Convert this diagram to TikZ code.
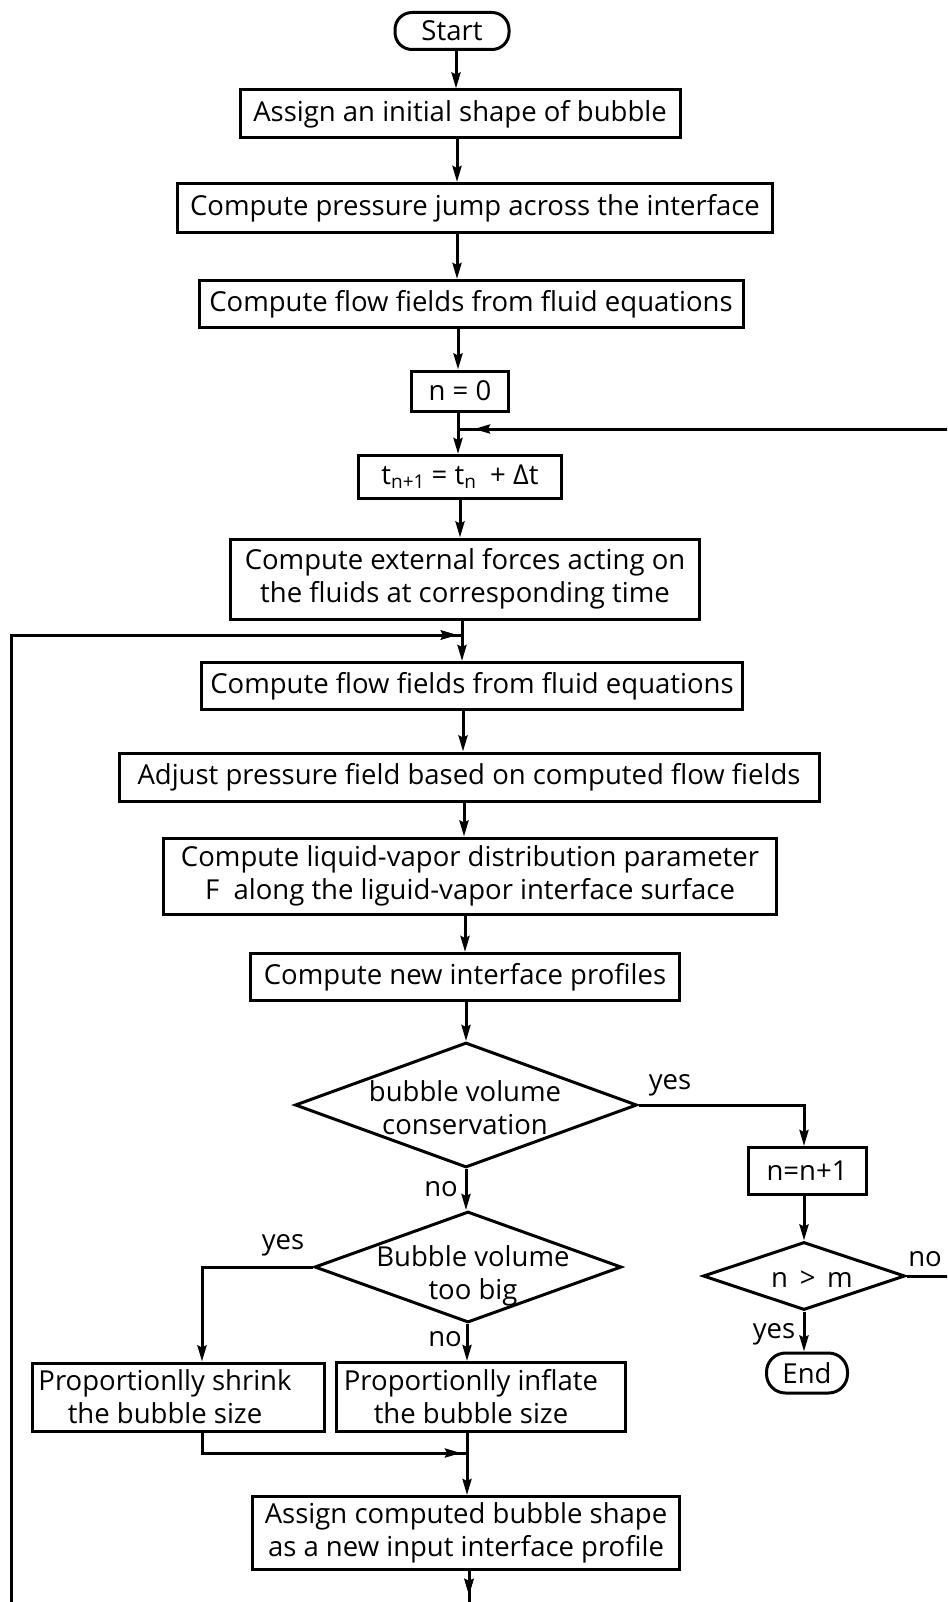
\documentclass[tikz,border=0pt]{standalone}
\usepackage{fontspec}
\setmainfont{Open Sans}[Ligatures={NoCommon}]
\usetikzlibrary{shapes.geometric,arrows.meta,decorations.markings,calc}
\begin{document}
\begin{tikzpicture}[x=1pt,y=-1pt,
  line width=3pt,
  font=\fontsize{27.5}{33}\selectfont,
  box/.style={draw,rectangle,inner sep=0pt,align=center},
  term/.style={draw,rectangle,rounded corners=17pt,inner sep=0pt},
  dia/.style={draw,diamond,inner sep=0pt},
  txt/.style={inner sep=0pt,align=center},
  arr/.style={-{Stealth[length=16pt,width=9pt,inset=2pt]}},
  lbl/.style={inner sep=0pt},
  arrowat/.style={postaction={decorate},decoration={markings,
     mark=at position #1 with {\arrow{Stealth[length=16pt,width=9pt,inset=2pt]}}}},
]
\useasboundingbox (0,0) rectangle (947,1602);
\clip (0,0) rectangle (947,1602);
\fill[white] (0,0) rectangle (947,1602);

% nodes
\node[term,minimum width=114pt,minimum height=37pt] (start) at (452,31) {Start};
\node[box,minimum width=440pt,minimum height=48pt] (assign1) at (460,114) {Assign an initial shape of bubble};
\node[box,minimum width=595pt,minimum height=49pt] (pjump) at (475,208) {Compute pressure jump across the interface};
\node[box,minimum width=544pt,minimum height=47pt] (flow1) at (471,304) {Compute flow fields from fluid equations};
\node[box,minimum width=97pt,minimum height=40pt] (n0) at (460,391) {n = 0};
\node[box,minimum width=203pt,minimum height=43pt] (tn) at (460,477) {t\raisebox{-4pt}{\fontsize{19}{19}\selectfont n+1} = t\raisebox{-4pt}{\fontsize{19}{19}\selectfont n} \ + Δt};
\node[box,minimum width=469pt,minimum height=80pt] (ext) at (465,579) {Compute external forces acting on\\the fluids at corresponding time};
\node[box,minimum width=541pt,minimum height=47pt] (flow2) at (472,686) {Compute flow fields from fluid equations};
\node[box,minimum width=700pt,minimum height=48pt] (adjust) at (469,777) {Adjust pressure field based on computed flow fields};
\node[box,minimum width=613pt,minimum height=76pt] (liqvap) at (470,876) {Compute liquid-vapor distribution parameter\\F \ along the liguid-vapor interface surface};
\node[box,minimum width=429pt,minimum height=47pt] (newprof) at (465,977) {Compute new interface profiles};
\node[dia,minimum width=342pt,minimum height=125pt] (d1) at (466,1105) {};
\node[txt] (d1t) at ($(d1.center)+(-1,3)$) {bubble volume\\conservation};
\node[box,minimum width=118pt,minimum height=47pt] (nn1) at (807,1171) {n=n+1};
\node[dia,minimum width=202pt,minimum height=68pt] (nm) at (804,1276) {};
\node[txt] (nmt) at ($(nm.center)+(8,3)$) {n \,\textgreater\, m};
\node[term,minimum width=81pt,minimum height=40pt,rounded corners=19pt] (end) at (807,1373) {End};
\node[dia,minimum width=307pt,minimum height=111pt] (d2) at (468,1267) {};
\node[txt] (d2t) at ($(d2.center)+(5,9)$) {Bubble volume\\too big};
\node[box,minimum width=292pt,minimum height=68pt] (shrink) at (178,1397) {Proportionlly shrink\hspace*{26pt}\\the bubble size\hspace*{26pt}};
\node[box,minimum width=289pt,minimum height=69pt] (inflate) at (481,1397) {Proportionlly inflate\hspace*{20pt}\\the bubble size\hspace*{20pt}};
\node[box,minimum width=427pt,minimum height=73pt] (assign2) at (466,1533) {Assign computed bubble shape\\as a new input interface profile};

% junctions
\coordinate (j1) at (458,429);
\coordinate (j2) at (462,635);
\coordinate (j3) at (467,1453);
\coordinate (R) at (958,429);
\coordinate (L) at (11,1645);

% main flow
\draw[arr] (start.south -| 456,0) -- (assign1.north -| 456,0);
\draw[arr] (assign1.south -| 457,0) -- (pjump.north -| 457,0);
\draw[arr] (pjump.south -| 457,0) -- (flow1.north -| 457,0);
\draw[arr] (flow1.south -| 458,0) -- (n0.north -| 458,0);
\draw[arr] (n0.south -| j1) -- (tn.north -| j1);
\draw[arr] (tn.south -| 460,0) -- (ext.north -| 460,0);
\draw[arr] (ext.south -| j2) -- (flow2.north -| j2);
\draw[arr] (flow2.south -| 463,0) -- (adjust.north -| 463,0);
\draw[arr] (adjust.south -| 464,0) -- (liqvap.north -| 464,0);
\draw[arr] (liqvap.south -| 465,0) -- (newprof.north -| 465,0);
\draw[arr] (newprof.south -| d1.north) -- (d1.north);
\draw[arr] (d1.south) -- (d1.south |- d2.north);
\draw[arr] (d1.east) -| (nn1.north -| 804,0);
\draw[arr] (nn1.south -| nm.north) -- (nm.north);
\draw[arr] (nm.south) -- (nm.south |- end.north);
\draw[arrowat=-16pt] (nm.east) -| (R) -- (j1);
\draw[arr] (d2.west) -| (shrink.north -| 202,0);
\draw[arr] (d2.south -| j3) -- (inflate.north -| j3);
\draw[arrowat=-6pt] (shrink.south -| 202,0) |- (j3);
\draw[arr] (inflate.south -| j3) -- (assign2.north -| j3);
\draw[arrowat=24pt,arrowat=-5pt] (assign2.south -| 469,0) |- (L) |- (j2);

% labels
\node[lbl] (yes1) at (670,1085) {yes};
\node[lbl] (no1) at (441,1189) {no};
\node[lbl] (yes2) at (283,1245) {yes};
\node[lbl] (no2) at (445,1339) {no};
\node[lbl] (no3) at (925,1259) {no};
\node[lbl] (yes3) at (774,1334) {yes};
\end{tikzpicture}
\end{document}
